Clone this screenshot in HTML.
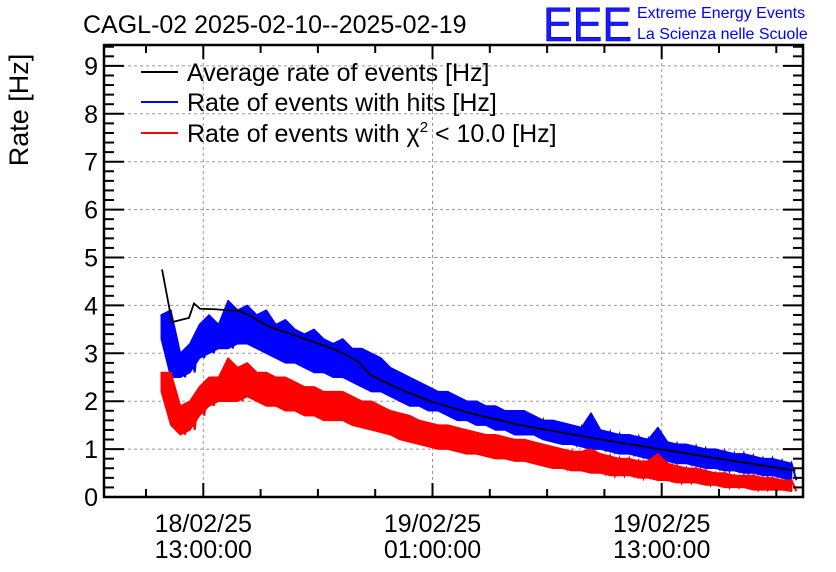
<!DOCTYPE html>
<html><head><meta charset="utf-8"><style>
body{margin:0;background:#fff;}
svg{display:block;font-family:"Liberation Sans",sans-serif;}
</style></head><body>
<svg id="c" width="836" height="572">
<text x="83" y="33" font-size="25">CAGL-02 2025-02-10--2025-02-19</text>
<text x="543" y="41" font-size="48" fill="#1a1aff" stroke="#0000cc" stroke-width="0.6" textLength="89" lengthAdjust="spacingAndGlyphs">EEE</text>
<text x="637" y="18" font-size="16" fill="#0000ff">Extreme Energy Events</text>
<text x="637" y="39" font-size="16" fill="#0000ff">La Scienza nelle Scuole</text>
<text transform="translate(28,110) rotate(-90)" text-anchor="middle" font-size="27">Rate [Hz]</text>
<g id="grid"></g><g id="series"></g><g id="axes"></g>
<g>
<line x1="141" y1="72" x2="178" y2="72" stroke="#000" stroke-width="2"/>
<text x="187" y="81" font-size="25">Average rate of events [Hz]</text>
<line x1="141" y1="102" x2="178" y2="102" stroke="#0000ff" stroke-width="2"/>
<text x="187" y="111" font-size="25">Rate of events with hits [Hz]</text>
<line x1="141" y1="133" x2="178" y2="133" stroke="#ff0000" stroke-width="2"/>
<text x="187" y="142" font-size="25">Rate of events with χ<tspan dy="-10" font-size="15">2</tspan><tspan dy="10"> &lt; 10.0 [Hz]</tspan></text>
</g>
</svg>
<script>
const yTicks=[0,1,2,3,4,5,6,7,8,9];
const xTickHours=[0,12,24];
const xTickLabels1=["18/02/25","19/02/25","19/02/25"];
const xTickLabels2=["13:00:00","01:00:00","13:00:00"];
const avgT=[-2.16,-1.64,-0.75,-0.49,-0.17,0.61,1.92,2.45,2.87,3.49,5.32,6.89,7.42,8.1,8.73,10.3,11.87,13.96,16.6,20.8,23.9,27.0,31.0];
const avgV=[4.75,3.65,3.74,4.04,3.93,3.92,3.88,3.78,3.68,3.55,3.3,3.08,2.98,2.83,2.55,2.25,2.0,1.75,1.5,1.2,1.0,0.8,0.55];
const t0=-2.2, dt=0.5;
const blueHi=[3.8,3.9,3.0,3.2,3.6,3.8,3.6,4.1,3.9,4.0,3.8,3.9,3.6,3.7,3.5,3.4,3.5,3.3,3.2,3.3,3.1,3.1,3.0,2.9,2.7,2.6,2.5,2.4,2.3,2.2,2.2,2.1,2.0,2.0,1.9,1.9,1.8,1.8,1.8,1.7,1.6,1.6,1.55,1.5,1.45,1.75,1.4,1.35,1.3,1.3,1.25,1.2,1.45,1.15,1.1,1.1,1.05,1.0,1.0,0.95,0.9,0.9,0.85,0.8,0.8,0.75,0.7];
const blueLo=[3.3,2.5,2.5,2.6,2.9,3.0,3.1,3.1,3.2,3.2,3.1,3.0,2.9,2.8,2.8,2.7,2.6,2.6,2.5,2.5,2.4,2.3,2.2,2.2,2.1,2.0,1.9,1.9,1.8,1.8,1.7,1.6,1.6,1.5,1.5,1.4,1.4,1.3,1.3,1.3,1.2,1.15,1.1,1.1,1.05,1.0,1.0,0.95,0.9,0.9,0.85,0.8,0.75,0.75,0.7,0.7,0.65,0.6,0.6,0.55,0.55,0.5,0.5,0.45,0.45,0.4,0.35];
const redHi=[2.6,2.6,1.9,2.0,2.3,2.5,2.5,2.9,2.7,2.8,2.6,2.6,2.5,2.5,2.4,2.3,2.3,2.2,2.2,2.2,2.1,2.0,2.0,1.9,1.8,1.75,1.7,1.6,1.55,1.5,1.5,1.45,1.4,1.35,1.3,1.3,1.25,1.2,1.2,1.15,1.1,1.05,1.0,0.95,0.95,1.0,0.9,0.85,0.8,0.8,0.75,0.75,0.9,0.7,0.65,0.6,0.6,0.55,0.5,0.5,0.45,0.45,0.45,0.4,0.4,0.35,0.35];
const redLo=[2.2,1.5,1.3,1.4,1.7,1.9,2.0,2.0,2.0,2.1,2.0,1.9,1.9,1.8,1.8,1.7,1.7,1.6,1.6,1.6,1.5,1.45,1.4,1.35,1.3,1.2,1.15,1.1,1.05,1.0,1.0,0.95,0.9,0.9,0.85,0.8,0.8,0.75,0.75,0.7,0.65,0.6,0.6,0.55,0.55,0.5,0.5,0.45,0.45,0.45,0.4,0.4,0.35,0.35,0.3,0.3,0.3,0.25,0.25,0.2,0.2,0.2,0.15,0.15,0.15,0.15,0.12];
const L=104,R=803,T=45,B=497;
const X=h=>203.3+h*19.1;
const Y=v=>B-v*47.9;
const NS="http://www.w3.org/2000/svg";
function mk(tag,attrs,parent){const e=document.createElementNS(NS,tag);for(const k in attrs)e.setAttribute(k,attrs[k]);parent.appendChild(e);return e;}
const grid=document.getElementById('grid'),axes=document.getElementById('axes'),ser=document.getElementById('series');
yTicks.forEach(v=>{
 const g=mk('line',{x1:L,x2:R,y1:Y(v),y2:Y(v),stroke:'#999','stroke-dasharray':'3,3','stroke-width':1},grid);
 
 
 const t=mk('text',{x:98,y:Y(v)+9,'text-anchor':'end','font-size':25},axes);
 t.textContent=v;
 
 
});
for(let v=0;v<=9.4;v+=0.2){const major=Math.abs(v-Math.round(v))<1e-6;const len=major?20:10;
 mk('line',{x1:L,x2:L+len,y1:Y(v),y2:Y(v),stroke:'#000','stroke-width':2},axes);
 mk('line',{x1:R,x2:R-len,y1:Y(v),y2:Y(v),stroke:'#000','stroke-width':2},axes);}
xTickHours.forEach((h,i)=>{
 const g=mk('line',{x1:X(h),x2:X(h),y1:T,y2:B,stroke:'#999','stroke-dasharray':'3,3','stroke-width':1},grid);
 
 
 const a=mk('text',{x:X(h),y:532,'text-anchor':'middle','font-size':25},axes);a.textContent=xTickLabels1[i];
 
 
 const b=mk('text',{x:X(h),y:558,'text-anchor':'middle','font-size':25},axes);b.textContent=xTickLabels2[i];
 
 
});
for(let h=-3;h<=33;h+=3){const x=X(h);if(x<L||x>R)continue;const len=(h%12===0)?14:8;
 mk('line',{x1:x,x2:x,y1:B,y2:B-len,stroke:'#000','stroke-width':2},axes);
 mk('line',{x1:x,x2:x,y1:T,y2:T+len,stroke:'#000','stroke-width':2},axes);}
const fr=mk('rect',{x:L,y:T,width:R-L,height:B-T,fill:'none',stroke:'#000','stroke-width':2.5},axes);


function band(hi,lo,color,name){
 const top=hi.map((v,i)=>X(t0+i*dt)+','+Y(v));
 const bot=lo.map((v,i)=>X(t0+i*dt)+','+Y(v)).reverse();
 const p=mk('polygon',{points:top.concat(bot).join(' '),fill:color,stroke:color,'stroke-width':1.5,'stroke-linejoin':'round'},ser);
 
 
 let pts=[];for(let i=0;i<hi.length;i++){const t=t0+i*dt;pts.push(X(t)+','+Y(hi[i]));pts.push(X(t+dt/2)+','+Y(lo[i]));}
 const z=mk('polyline',{points:pts.join(' '),fill:'none',stroke:color,'stroke-width':2},ser);
 
 }
band(blueHi,blueLo,'#0000ff','series-hits-rate');
band(redHi,redLo,'#ff0000','series-chi2-rate');
const ap=mk('polyline',{points:avgT.map((t,i)=>X(t)+','+Y(avgV[i])).join(' '),fill:'none',stroke:'#000','stroke-width':1.8},ser);


</script>
</body></html>
